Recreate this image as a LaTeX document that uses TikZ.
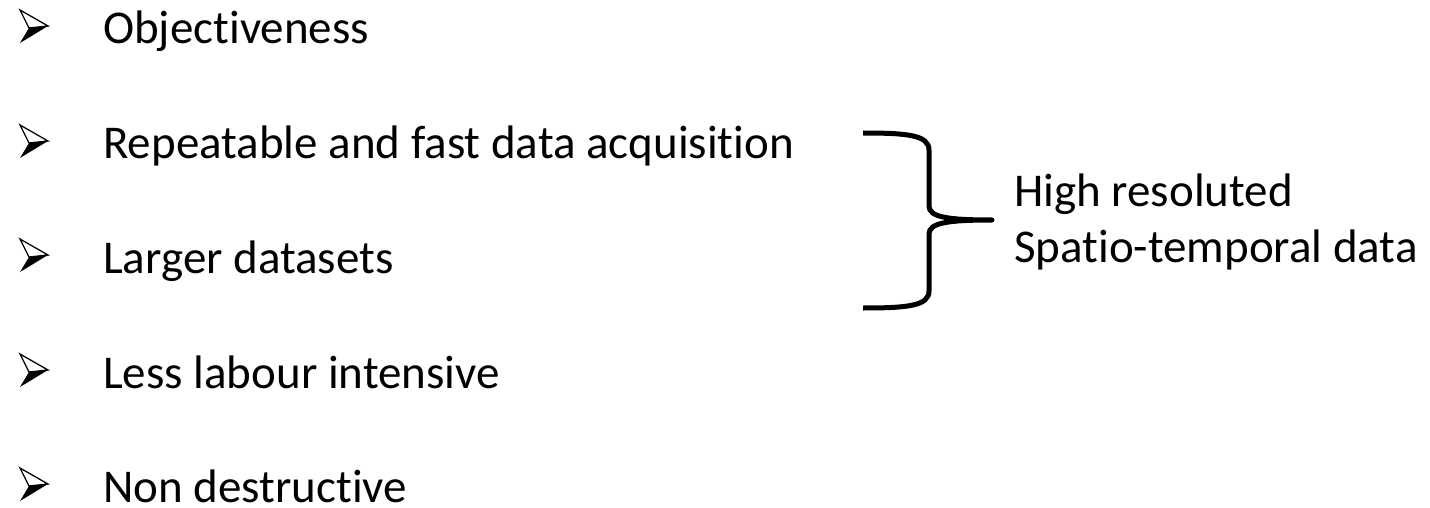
\documentclass[tikz,border=0pt]{standalone}
\usepackage{fontspec}
\setmainfont{Carlito}[Ligatures=NoCommon]
\usetikzlibrary{positioning}

\tikzset{
  item/.style={anchor=base west, inner sep=0pt, font=\fontsize{47}{56}\selectfont},
  brace/.style={line width=5pt, line join=round},
  % 3D arrowhead bullet, origin at the back corner on the baseline
  arrowbullet/.pic={
    \fill[black] (9,-16) -- (28,-18) -- (0,-1) -- cycle;
    \draw[line width=1.3pt, line join=miter] (0,-34) -- (28,-18) -- (9,-16) -- cycle;
  },
}

\begin{document}
\begin{tikzpicture}[x=1pt,y=-1pt]
    \useasboundingbox (0,0) rectangle (1430,508);

    % Bullets
    \coordinate (b1) at (20,44);
    \coordinate (b2) at (20,159);
    \coordinate (b3) at (20,273);
    \coordinate (b4) at (20,388);
    \coordinate (b5) at (20,502);
    \pic at (b1) {arrowbullet};
    \pic at (b2) {arrowbullet};
    \pic at (b3) {arrowbullet};
    \pic at (b4) {arrowbullet};
    \pic at (b5) {arrowbullet};

    % List items
    \node[item] (obj) at (103,44) {Objectiveness};
    \node[item] (rep) at (103,159) {Repeatable and fast data acquisition};
    \node[item] (larger) at (103,273) {Larger datasets};
    \node[item] (labour) at (103,388) {Less labour intensive};
    \node[item] (nondes) at (103,502) {Non destructive};

    % Curly brace over the middle items
    \coordinate (btop) at (863,133);
    \coordinate (bbot) at (863,308);
    \coordinate (btip) at (992,220);
    \draw[brace] (btop) .. controls (907,133) and (929,135) .. (929,150)
        -- (929,206) .. controls (929,217) and (947,220) .. (btip)
        .. controls (947,220) and (929,223) .. (929,234)
        -- (929,291) .. controls (929,306) and (907,308) .. (bbot);

    % Brace label
    \node[item] (hires) at (1014,207) {High resoluted};
    \node[item] (spatio) at (1014,262) {Spatio-temporal data};

\end{tikzpicture}
\end{document}
